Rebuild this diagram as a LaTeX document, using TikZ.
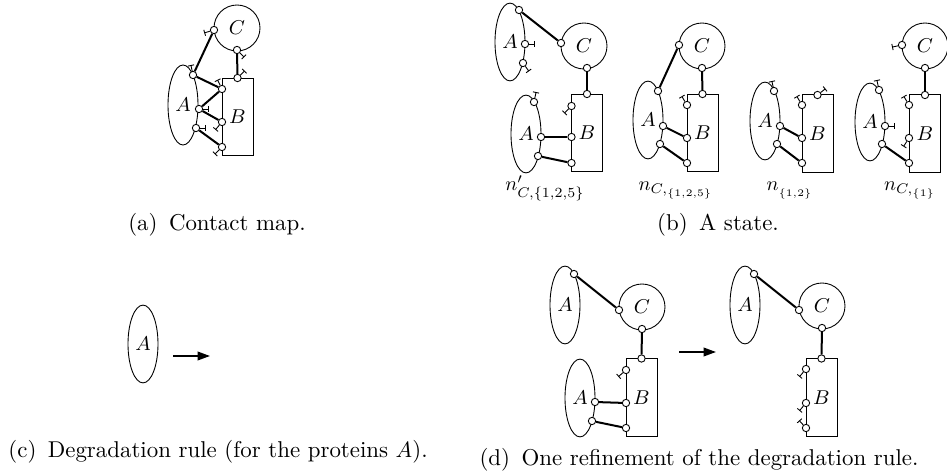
\documentclass[tikz,border=0pt]{standalone}
\usepackage{amsmath, amssymb}
\usepackage{graphicx}
\usepackage{tikz}
\usetikzlibrary{shapes.geometric,arrows.meta}

\newcommand{\statelabel}[1]{\scalebox{0.9}{$#1$}}

\begin{document}
\begin{tikzpicture}[x=0.45pt, y=-0.45pt,
    agentA/.style={ellipse, draw, minimum width=13.5pt, minimum height=35pt, inner sep=0pt, font=\small},
    agentB/.style={rectangle, draw, minimum width=14pt, minimum height=35pt, inner sep=0pt, font=\small},
    agentC/.style={circle, draw, minimum size=20.7pt, inner sep=0pt, font=\small},
    site/.style={circle, draw, fill=white, minimum size=3.3pt, inner sep=0pt},
    stub/.style={pin=#1:{}},
    pin distance=2.7pt,
    every pin/.style={inner sep=0pt, minimum size=0pt},
    every pin edge/.style={draw, -{Bar[width=2.8pt]}, line width=0.4pt},
    bond/.style={line width=0.9pt},
    arrow/.style={-{Triangle[length=5.6pt, width=3.9pt]}, line width=0.75pt},
    nlabel/.style={anchor=base, inner sep=0pt},
    caption/.style={anchor=base, inner sep=0pt, font=\fontsize{10.3}{12.4}\selectfont}
]
\useasboundingbox (0,0) rectangle (947,475);

% (a) Contact map
\node[agentC] (aC) at (237,28) {$C$};
\node[agentA, minimum height=36pt] (aA) at (183,105) {$A$};
\node[agentB] (aB) at (237.5,117) {$B$};
\node[site, stub=195] (aC1) at (214,30) {};
\node[site, stub=-45] (aC2) at (237,50) {};
\node[site, stub=100] (aA1) at (193,75) {};
\node[site, stub=0] (aA2) at (199,109) {};
\node[site, stub=0] (aA3) at (196,128) {};
\node[site, stub=45] (aB1) at (237.5,78) {};
\node[site, stub=115] (aB2) at (222,89) {};
\node[site, stub=230] (aB3) at (222,122) {};
\node[site, stub=225] (aB4) at (222,147) {};
\draw[bond] (aC1) -- (aA1);
\draw[bond] (aC2) -- (aB1);
\draw[bond] (aA1) -- (aB2);
\draw[bond] (aA2) -- (aB2);
\draw[bond] (aA2) -- (aB3);
\draw[bond] (aA3) -- (aB4);
\node[caption] (capa) at (217,231) {(a)\enspace Contact map.};

% (b) A state: first part
\node[agentA] (b1A) at (510,42) {$A$};
\node[agentC] (b1C) at (584,46) {$C$};
\node[agentB] (b1B) at (587,133) {$B$};
\node[agentA] (b1D) at (526,134) {$A$};
\node[site] (b1A1) at (519,10) {};
\node[site, stub=0] (b1A2) at (525,44) {};
\node[site, stub=-55] (b1A3) at (523,63) {};
\node[site] (b1C1) at (561,43) {};
\node[site] (b1C2) at (587,68) {};
\node[site] (b1B1) at (587,94) {};
\node[site, stub=225] (b1B2) at (571.5,106) {};
\node[site] (b1B3) at (571.5,137) {};
\node[site] (b1B4) at (571.5,163) {};
\node[site, stub=80] (b1D1) at (534,102) {};
\node[site] (b1D2) at (541,137) {};
\node[site] (b1D3) at (538,156) {};
\draw[bond] (b1A1) -- (b1C1);
\draw[bond] (b1C2) -- (b1B1);
\draw[bond] (b1D2) -- (b1B3);
\draw[bond] (b1D3) -- (b1B4);
\node[nlabel] (b1n) at (545,191) {\statelabel{n'_{C,\{1,2,5\}}}};

% second part
\node[agentC] (b2C) at (702,46) {$C$};
\node[agentA] (b2A) at (648,120) {$A$};
\node[agentB] (b2B) at (702.5,133) {$B$};
\node[site] (b2C1) at (679,45) {};
\node[site] (b2C2) at (702,68) {};
\node[site] (b2A1) at (658,91) {};
\node[site] (b2A2) at (663,126) {};
\node[site] (b2A3) at (660,144) {};
\node[site] (b2B1) at (702.5,94) {};
\node[site, stub=120] (b2B2) at (687,105) {};
\node[site] (b2B3) at (687,138) {};
\node[site] (b2B4) at (687,163) {};
\draw[bond] (b2A1) -- (b2C1);
\draw[bond] (b2C2) -- (b2B1);
\draw[bond] (b2A2) -- (b2B3);
\draw[bond] (b2A3) -- (b2B4);
\node[nlabel] (b2n) at (676,191) {\statelabel{n_{C,_{\{1,2,5\}}}}};

% third part
\node[agentA] (b3A) at (765,121) {$A$};
\node[agentB] (b3B) at (817.5,133.5) {$B$};
\node[site, stub=100] (b3A1) at (774,91) {};
\node[site] (b3A2) at (780,126) {};
\node[site] (b3A3) at (777,144) {};
\node[site, stub=38] (b3B1) at (817.5,95) {};
\node[site, stub=120] (b3B2) at (802,105) {};
\node[site] (b3B3) at (802,138) {};
\node[site] (b3B4) at (802,163) {};
\draw[bond] (b3A2) -- (b3B3);
\draw[bond] (b3A3) -- (b3B4);
\node[nlabel] (b3n) at (790,191) {\statelabel{n_{_{\{1,2\}}}}};

% fourth part
\node[agentC] (b4C) at (925,46) {$C$};
\node[agentA] (b4A) at (870,122) {$A$};
\node[agentB] (b4B) at (925,133.5) {$B$};
\node[site, stub=190] (b4C1) at (902,45) {};
\node[site] (b4C2) at (925,68) {};
\node[site, stub=100] (b4A1) at (879,90) {};
\node[site, stub=0] (b4A2) at (885,126) {};
\node[site] (b4A3) at (882,144) {};
\node[site] (b4B1) at (925,95) {};
\node[site, stub=120] (b4B2) at (909,105) {};
\node[site, stub=238] (b4B3) at (909,138) {};
\node[site] (b4B4) at (909,163) {};
\draw[bond] (b4C2) -- (b4B1);
\draw[bond] (b4A3) -- (b4B4);
\node[nlabel] (b4n) at (910,191) {\statelabel{n_{C,_{\{1\}}}}};
\node[caption] (capb) at (718,231) {(b)\enspace A state.};

% (c) Degradation rule
\node[agentA] (cA) at (143,344) {$A$};
\coordinate (cL) at (173,356);
\coordinate (cR) at (210,356);
\draw[arrow] (cL) -- (cR);
\node[caption, anchor=base west] (capc) at (8,458) {(c)\enspace Degradation rule (for the proteins $A$).};

% (d) Refinement: left hand side
\node[agentA] (dA) at (565,305) {$A$};
\node[agentC] (dC) at (642,307) {$C$};
\node[agentB] (dB) at (641.5,397.5) {$B$};
\node[agentA] (dD) at (580,398) {$A$};
\node[site] (dA1) at (574,274) {};
\node[site] (dC1) at (619,310) {};
\node[site] (dC2) at (642,329) {};
\node[site] (dB1) at (641.5,358.5) {};
\node[site, stub=221] (dB2) at (626,370) {};
\node[site] (dB3) at (626,403) {};
\node[site] (dB4) at (626,428) {};
\node[site] (dD2) at (595,402) {};
\node[site] (dD3) at (592,421) {};
\draw[bond] (dA1) -- (dC1);
\draw[bond] (dC2) -- (dB1);
\draw[bond] (dD2) -- (dB3);
\draw[bond] (dD3) -- (dB4);

\coordinate (dL) at (679,352);
\coordinate (dR) at (716,352);
\draw[arrow] (dL) -- (dR);

% right hand side
\node[agentA] (eA) at (745,305) {$A$};
\node[agentC] (eC) at (822,306) {$C$};
\node[agentB] (eB) at (821.5,397.5) {$B$};
\node[site] (eA1) at (754,274) {};
\node[site] (eC1) at (799,310) {};
\node[site] (eC2) at (822,328) {};
\node[site] (eB1) at (821.5,358.5) {};
\node[site, stub=230] (eB2) at (806,369) {};
\node[site, stub=230] (eB3) at (806,403) {};
\node[site, stub=132] (eB4) at (806,428) {};
\draw[bond] (eA1) -- (eC1);
\draw[bond] (eC2) -- (eB1);
\node[caption] (capd) at (699,465) {(d)\enspace One refinement of the degradation rule.};

\end{tikzpicture}
\end{document}
